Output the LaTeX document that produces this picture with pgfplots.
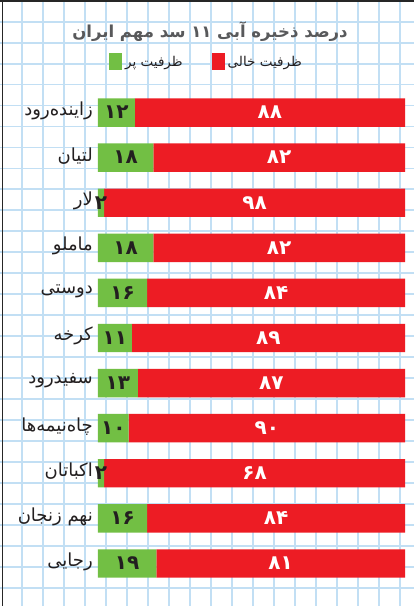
\documentclass[border=0pt]{standalone}
\usepackage{pgfplots}
\pgfplotsset{compat=1.18}
\usepackage{pgfplotstable}
\usepackage{fontspec}
\TeXXeTstate=1
\newfontfamily\fa[Script=Arabic]{DejaVu Sans}
\definecolor{cred}{HTML}{ED1C24}
\definecolor{cgreen}{HTML}{72BF44}
\definecolor{gridc}{HTML}{C2DFF4}
\definecolor{ttl}{HTML}{58595B}
\definecolor{txt}{HTML}{231F20}

\pgfplotstableread{
idx full empty fl el
0 12 88 ۱۲ ۸۸
1 18 82 ۱۸ ۸۲
2 2 98 ۲ ۹۸
3 18 82 ۱۸ ۸۲
4 16 84 ۱۶ ۸۴
5 11 89 ۱۱ ۸۹
6 13 87 ۱۳ ۸۷
7 10 90 ۱۰ ۹۰
8 2 98 ۲ ۶۸
9 16 84 ۱۶ ۸۴
10 19 81 ۱۹ ۸۱
}\data

\begin{document}
\begin{tikzpicture}
\useasboundingbox (0pt,-606pt) rectangle (414pt,0pt);
\fill[white] (0pt,-606pt) rectangle (414pt,0pt);
\foreach \i in {0,...,18} \draw[gridc, line width=1.8pt] ({21.7pt+21.02pt*\i},-606pt) -- ({21.7pt+21.02pt*\i},0pt);
\foreach \i in {0,...,27} \draw[gridc, line width=1.8pt] (0pt,{-21.7pt-20.96pt*\i}) -- (414pt,{-21.7pt-20.96pt*\i});
\draw[black!85, line width=2pt] (0pt,-1pt) -- (414pt,-1pt);
\draw[black!85, line width=1.6pt] (2.5pt,0pt) -- (2.5pt,-606pt);
\begin{axis}[at={(98pt,-90pt)}, anchor=north west,
  width=307pt, height=496pt, scale only axis,
  xbar stacked, bar width=28.4pt,
  xmin=0, xmax=100, ymin=-0.5, ymax=10.5, y dir=reverse,
  xtick=\empty, ytick={0,...,10},
  yticklabels={
    {\beginR زاینده‌رود\endR},
    {\beginR لتیان\endR},
    {\beginR لار\endR},
    {\beginR ماملو\endR},
    {\beginR دوستی\endR},
    {\beginR کرخه\endR},
    {\beginR سفیدرود\endR},
    {\beginR چاه‌نیمه‌ها\endR},
    {\beginR اکباتان\endR},
    {\beginR نهم زنجان\endR},
    {\beginR رجایی\endR}},
  axis line style={draw=none}, major tick length=0pt,
  yticklabel style={font=\fontsize{18}{18}\selectfont\fa, text=txt, anchor=east, inner sep=0pt, xshift=-5pt, yshift=2pt},
  clip=false,
  title={\beginR درصد ذخیره آبی ۱۱ سد مهم ایران\endR},
  title style={font=\fontsize{16.5}{16.5}\selectfont\fa\bfseries, text=ttl, at={(axis description cs:0.365,1.106)}, anchor=center},
  legend columns=2,
  legend style={draw=none, fill=none, at={(axis description cs:0.355,1.0565)}, anchor=center,
    font=\fontsize{13.5}{13.5}\selectfont\fa, text=txt,
    /tikz/every even column/.append style={column sep=26pt},
    /tikz/every node/.append style={inner xsep=3pt}},
]
\addplot[fill=cgreen, draw=none,
  legend image code/.code={\fill[cgreen] (0pt,-8.5pt) rectangle (13pt,8.5pt);},
  point meta=explicit symbolic, nodes near coords,
  every node near coord/.append style={anchor=center, text=txt, font=\fontsize{20}{20}\selectfont\fa\bfseries}]
  table[x=full, y=idx, meta=fl] {\data};
\addlegendentry{\beginR ظرفیت پر\endR}
\addplot[fill=cred, draw=none,
  legend image code/.code={\fill[cred] (0pt,-8.5pt) rectangle (13pt,8.5pt);},
  point meta=explicit symbolic, nodes near coords,
  every node near coord/.append style={anchor=center, text=white, font=\fontsize{20}{20}\selectfont\fa\bfseries}]
  table[x=empty, y=idx, meta=el] {\data};
\addlegendentry{\beginR ظرفیت خالی\endR}
\end{axis}
\end{tikzpicture}
\end{document}
